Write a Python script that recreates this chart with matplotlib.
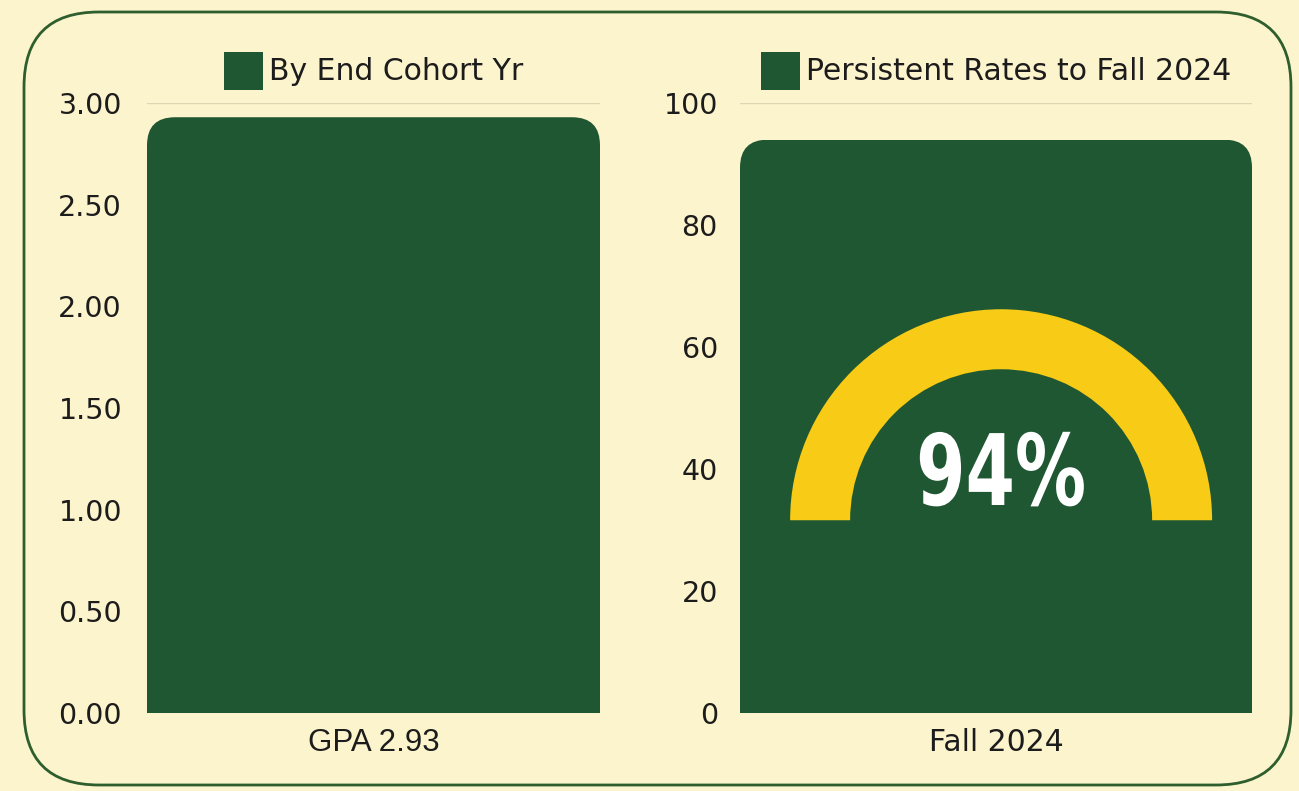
import matplotlib
matplotlib.use('Agg')
import matplotlib.pyplot as plt
from matplotlib.patches import FancyBboxPatch, Wedge, Patch
from matplotlib.patheffects import AbstractPathEffect
from matplotlib.transforms import IdentityTransform, Affine2D

# data
gpa_categories = ['GPA 2.93']
gpa_values = [2.93]
gpa_ticks = [0.0, 0.5, 1.0, 1.5, 2.0, 2.5, 3.0]
gpa_legend = 'By End Cohort Yr'

persist_categories = ['Fall 2024']
persist_values = [94]
persist_ticks = [0, 20, 40, 60, 80, 100]
persist_legend = 'Persistent Rates to Fall 2024'
gauge_label = '94%'

# colours
BG = '#FCF4CC'
GREEN = '#205733'
YELLOW = '#F7CB16'
GRID = '#DDD6B4'
BORDER = '#2F5E2E'
TEXT = '#1C1C1C'
BODY = 'DejaVu Sans'


class Condense(AbstractPathEffect):
    """squeeze text horizontally about a fixed x (display px)"""
    def __init__(self, cx, sx):
        super().__init__()
        self.cx = cx
        self.sx = sx

    def draw_path(self, renderer, gc, tpath, affine, rgbFace=None):
        squeeze = Affine2D().translate(-self.cx, 0).scale(self.sx, 1).translate(self.cx, 0)
        renderer.draw_path(gc, tpath, affine + squeeze, rgbFace)


fig = plt.figure(figsize=(12.99, 7.91), dpi=100)
fig.patch.set_facecolor(BG)

border = FancyBboxPatch((0.24, 0.06), 12.67, 7.73,
                        boxstyle='round,pad=0,rounding_size=0.75',
                        transform=fig.dpi_scale_trans, fill=False,
                        edgecolor=BORDER, lw=2)
fig.add_artist(border)

ax1 = fig.add_axes([147 / 1299, 78 / 791, 453 / 1299, 610 / 791])
ax2 = fig.add_axes([740 / 1299, 78 / 791, 512 / 1299, 610 / 791])


def style_axis(ax, ticks, labels, pad, xfont, xsize):
    ax.set_facecolor('none')
    for s in ax.spines.values():
        s.set_visible(False)
    ax.set_xlim(-0.5, 0.5)
    ax.set_ylim(ticks[0], ticks[-1])
    ax.set_yticks(ticks)
    ax.set_yticklabels(labels, fontsize=20.5, family=BODY, color=TEXT)
    ax.tick_params(axis='y', length=0, pad=pad)
    ax.tick_params(axis='x', length=0, pad=11)
    for t in ax.get_xticklabels():
        t.set_fontsize(xsize)
        t.set_family(xfont)
        t.set_color(TEXT)
    ax.grid(axis='y', color=GRID, lw=1)
    ax.set_axisbelow(True)


def round_top(ax, bar, radius):
    (x0, y0), (x1, y1) = ax.transData.transform(
        [(bar.get_x(), bar.get_y()), (bar.get_x() + bar.get_width(), bar.get_height())])
    clip = FancyBboxPatch((x0, y0 - 2 * radius), x1 - x0, y1 - y0 + 2 * radius,
                          boxstyle=f'round,pad=0,rounding_size={radius}',
                          transform=IdentityTransform())
    bar.set_clip_path(clip)


def add_legend(ax, label):
    ax.legend(handles=[Patch(facecolor=GREEN, label=label)], loc='lower center',
              bbox_to_anchor=(0.5, 1.0), frameon=False, handlelength=1.3,
              handleheight=1.58, handletextpad=0.2, borderaxespad=0.05,
              prop={'family': BODY, 'size': 21.5}, labelcolor=TEXT)


# left: GPA
bars1 = ax1.bar(gpa_categories, gpa_values, width=1.0, color=GREEN)
style_axis(ax1, gpa_ticks, [f'{t:.2f}' for t in gpa_ticks], 18, 'Liberation Sans', 22.5)
add_legend(ax1, gpa_legend)

# right: persistence
bars2 = ax2.bar(persist_categories, persist_values, width=1.0, color=GREEN)
style_axis(ax2, persist_ticks, [str(t) for t in persist_ticks], 16, BODY, 21.5)
add_legend(ax2, persist_legend)

for b in bars1:
    round_top(ax1, b, 28)
for b in bars2:
    round_top(ax2, b, 28)

# gauge decoration inside the persistence bar
gauge_base = 31.6
cx, cy = ax2.transData.transform((0.01, gauge_base))
ax2.add_patch(Wedge((cx, cy), 211, 0, 180, width=60, color=YELLOW,
                    transform=IdentityTransform(), lw=0))
ax2.text(0.01, 34.1, gauge_label, ha='center', va='baseline', color='white',
         fontsize=71, fontweight='bold', family='DejaVu Sans',
         path_effects=[Condense(cx, 0.72)])

fig.savefig('out.png', dpi=100, facecolor=BG)
